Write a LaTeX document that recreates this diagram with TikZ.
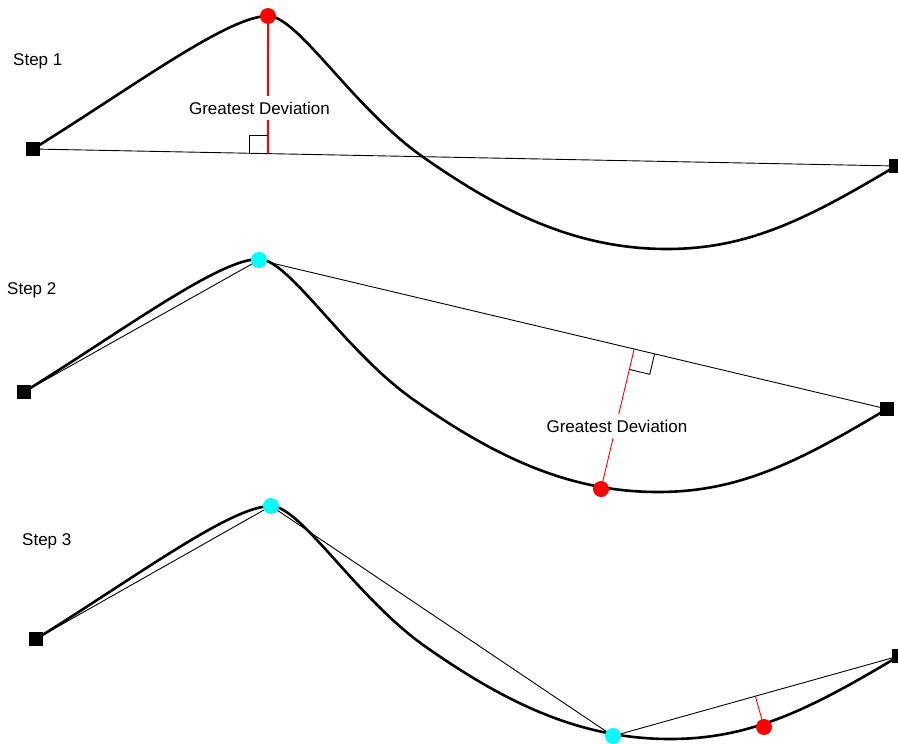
\documentclass[tikz,border=0pt]{standalone}
\usepackage{fontspec}
\setmainfont{Liberation Sans}
\usetikzlibrary{calc}
\definecolor{dotcyan}{RGB}{0,255,255}
\definecolor{dotred}{RGB}{255,0,0}
\pgfdeclarelayer{fg}
\pgfsetlayers{main,fg}
\tikzset{
  curvestyle/.style={line width=2.6pt, black, line join=round, line cap=round},
  chord/.style={line width=0.9pt, black},
  endpt/.style={rectangle, fill=black, minimum size=14pt, inner sep=0pt},
  reddot/.style={circle, fill=dotred, minimum size=16pt, inner sep=0pt},
  cyandot/.style={circle, fill=dotcyan, minimum size=16pt, inner sep=0pt},
  devthick/.style={dotred, line width=2pt},
  devthin/.style={dotred, line width=0.9pt},
  rightmark/.style={black, line width=0.9pt},
  devlabel/.style={fill=white, inner xsep=1pt, inner ysep=6pt, text height=12pt, text depth=0pt, font=\fontsize{17}{20}\selectfont},
  steplabel/.style={anchor=west, inner sep=0pt, font=\fontsize{17}{20}\selectfont},
  thecurve/.pic={
    \draw[curvestyle] (33,149) .. controls (133,87) and (228,16) .. (268,16)
      .. controls (298,16) and (353,108) .. (423,157)
      .. controls (503,213) and (577,249) .. (667,249)
      .. controls (747,249) and (806,220) .. (896,166);
  }
}
\begin{document}
\begin{tikzpicture}[x=1pt,y=-1pt]
\useasboundingbox (0,0) rectangle (898,744);

% markers on top layer
\begin{pgfonlayer}{fg}
  % step 1
  \node[endpt] (A1) at (33,149) {};
  \node[endpt] (B1) at (896,166) {};
  \node[reddot] (R1) at (268,16) {};
  % step 2
  \node[endpt] (A2) at (24,392) {};
  \node[endpt] (B2) at (887,409) {};
  \node[cyandot] (T2) at (259,260) {};
  \node[reddot] (R2) at (601,489) {};
  % step 3
  \node[endpt] (A3) at (36,639) {};
  \node[endpt] (B3) at (899,656) {};
  \node[cyandot] (T3) at (271,506) {};
  \node[cyandot] (C3) at (613,736) {};
  \node[reddot] (R3) at (764,727) {};
\end{pgfonlayer}

% ---------- Step 1 ----------
\node[steplabel] (S1) at (13,61) {Step 1};
\pic at (0,0) {thecurve};
\draw[chord] (A1.center) -- (B1.center);
\coordinate (F1) at ($(A1.center)!0.2723!(B1.center)$);
\draw[devthick] (R1.center) -- (F1);
\draw[rightmark] ($(F1)+(-19,0)$) -- ++(0,-18) -- ++(19,0);
\node[devlabel] (G1) at (259.5,108) {Greatest Deviation};

% ---------- Step 2 ----------
\node[steplabel] (S2) at (7,290) {Step 2};
\pic at (-9,243) {thecurve};
\draw[chord] (A2.center) -- (T2.center);
\draw[chord] (T2.center) -- (B2.center);
\coordinate (F2) at ($(T2.center)!(R2.center)!(B2.center)$);
\draw[devthin] (R2.center) -- (F2);
\coordinate (F2a) at ($(F2)!21pt!(B2.center)$);
\coordinate (F2b) at ($(F2)!21pt!(R2.center)$);
\draw[rightmark] (F2a) -- ($(F2a)+(F2b)-(F2)$) -- (F2b);
\node[devlabel] (G2) at (617,426) {Greatest Deviation};

% ---------- Step 3 ----------
\node[steplabel] (S3) at (22,541) {Step 3};
\pic at (3,490) {thecurve};
\draw[chord] (A3.center) -- (T3.center);
\draw[chord] (T3.center) -- (C3.center);
\draw[chord] (C3.center) -- (B3.center);
\coordinate (F3) at ($(C3.center)!(R3.center)!(B3.center)$);
\draw[devthin] (R3.center) -- (F3);
\end{tikzpicture}
\end{document}
